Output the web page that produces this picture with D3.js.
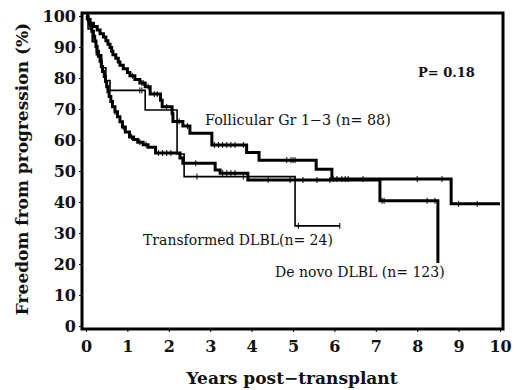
<!DOCTYPE html>
<html>
<head>
<meta charset="utf-8">
<script src="https://cdn.jsdelivr.net/npm/d3@7"></script>
<style>
  body { margin: 0; background: #fff; }
  svg text { font-family: "DejaVu Serif", serif; fill: #111; }
</style>
</head>
<body>
<div id="chart"></div>
<script>
// step times (years) and survival after each drop (%)
const follicularT = [0.05, 0.10, 0.18, 0.27, 0.34, 0.42, 0.48, 0.53, 0.58, 0.62, 0.65, 0.72, 0.78, 0.82, 0.90, 1.00, 1.06, 1.18, 1.30, 1.43, 1.55, 1.80, 1.84, 2.08, 2.10, 2.34, 2.51, 3.04, 3.88, 4.18, 5.56, 5.94, 8.82];
const follicularV = [98.9, 97.7, 96.6, 95.5, 94.3, 93.2, 92.0, 90.9, 89.8, 88.6, 87.5, 86.4, 85.2, 84.1, 83.0, 81.8, 80.7, 79.5, 78.4, 77.2, 74.8, 72.8, 70.7, 68.5, 66.0, 64.5, 62.2, 58.4, 56.0, 53.5, 50.6, 47.4, 39.4];
const follicularEnd = 10;
const follicularCens = [1.12, 1.35, 1.38, 1.50, 1.65, 1.72, 1.95, 2.25, 2.45, 3.10, 3.20, 3.30, 3.40, 3.50, 3.60, 3.80, 4.85, 4.95, 5.00, 5.05, 5.97, 6.06, 6.18, 6.26, 6.33, 6.69, 8.00, 8.60, 9.00, 9.45];

const deNovoT = [0.03, 0.06, 0.08, 0.11, 0.14, 0.18, 0.21, 0.24, 0.27, 0.30, 0.34, 0.37, 0.40, 0.44, 0.47, 0.50, 0.53, 0.56, 0.60, 0.64, 0.70, 0.76, 0.82, 0.88, 0.95, 1.05, 1.15, 1.25, 1.38, 1.50, 1.68, 2.27, 2.34, 3.12, 3.24, 3.91, 7.10, 8.50];
const deNovoV = [99.2, 98.4, 97.6, 96.7, 95.1, 93.5, 91.9, 90.2, 88.6, 87.0, 85.4, 83.7, 82.1, 80.5, 78.9, 77.2, 75.6, 74.0, 72.4, 70.7, 69.1, 67.5, 65.9, 64.2, 62.6, 61.0, 60.2, 59.3, 58.5, 57.7, 55.8, 54.2, 52.5, 50.3, 49.3, 47.1, 40.4, 20.3];
const deNovoEnd = 8.5;
const deNovoCens = [0.25, 0.45, 0.70, 0.90, 1.10, 1.30, 1.45, 1.75, 1.85, 1.95, 2.05, 2.65, 3.30, 3.40, 3.50, 3.60, 4.40, 4.93, 5.24, 5.58, 5.89, 7.15, 7.20, 8.24, 8.43];

const transformedT = [0.05, 0.15, 0.25, 0.38, 0.48, 0.58, 1.43, 2.20, 2.37, 5.05];
const transformedV = [95.8, 91.7, 87.5, 83.3, 79.2, 76.0, 69.7, 55.5, 48.2, 32.3];
const transformedEnd = 6.13;
const transformedCens = [1.30, 1.35, 2.68, 3.80, 5.13, 6.13];

const yTicks = [0, 10, 20, 30, 40, 50, 60, 70, 80, 90, 100];
const xTicks = [0, 1, 2, 3, 4, 5, 6, 7, 8, 9, 10];

const W = 520, H = 390;
const svg = d3.select("#chart").append("svg")
    .attr("width", W)
    .attr("height", H);

const x = d3.scaleLinear().domain([0, 10]).range([86, 500]);
const y = d3.scaleLinear().domain([0, 100]).range([326, 16]);

// build step path points from drop times
function steps(times, vals, end){
    const pts = [[0, 100]];
    let prev = 100;
    times.forEach((t, i) => {
        pts.push([t, prev]);
        pts.push([t, vals[i]]);
        prev = vals[i];
    });
    pts.push([end, prev]);
    return pts;
}

function valueAt(times, vals, t){
    let v = 100;
    times.forEach((tt, i) => { if(tt <= t) v = vals[i]; });
    return v;
}

const line = d3.line().x(d => x(d[0])).y(d => y(d[1]));

const curves = [
    {t: follicularT, v: follicularV, end: follicularEnd, cens: follicularCens, w: 3},
    {t: deNovoT, v: deNovoV, end: deNovoEnd, cens: deNovoCens, w: 3},
    {t: transformedT, v: transformedV, end: transformedEnd, cens: transformedCens, w: 1.6}
];

const g = svg.append("g");
curves.forEach(c => {
    g.append("path")
        .attr("d", line(steps(c.t, c.v, c.end)))
        .attr("fill", "none")
        .attr("stroke", "#000")
        .attr("stroke-width", c.w)
        .attr("stroke-linejoin", "miter");

    g.selectAll(null)
        .data(c.cens)
        .enter()
        .append("line")
            .attr("x1", d => x(d))
            .attr("x2", d => x(d))
            .attr("y1", d => y(valueAt(c.t, c.v, d)) - 3)
            .attr("y2", d => y(valueAt(c.t, c.v, d)) + 3)
            .attr("stroke", "#000")
            .attr("stroke-width", 1);
});

// frame
svg.append("rect")
    .attr("x", 82).attr("y", 13)
    .attr("width", 421).attr("height", 316)
    .attr("fill", "none")
    .attr("stroke", "#000")
    .attr("stroke-width", 3);

// axes
const yAxis = svg.append("g")
    .attr("transform", "translate(82,0)")
    .call(d3.axisLeft(y).tickValues(yTicks).tickSize(3).tickPadding(3));
yAxis.select(".domain").remove();
yAxis.selectAll("text")
    .style("font-family", "DejaVu Serif")
    .style("font-size", "16px")
    .style("font-weight", "bold")
    .attr("fill", "#111");

const xAxis = svg.append("g")
    .attr("transform", "translate(0,329)")
    .call(d3.axisBottom(x).tickValues(xTicks).tickSize(3).tickPadding(9));
xAxis.select(".domain").remove();
xAxis.selectAll("text")
    .style("font-family", "DejaVu Serif")
    .style("font-size", "16px")
    .style("font-weight", "bold")
    .attr("fill", "#111");

// titles
svg.append("text")
    .attr("transform", "translate(28,169) rotate(-90)")
    .attr("text-anchor", "middle")
    .style("font-size", "17px")
    .style("font-weight", "bold")
    .text("Freedom from progression (%)");

svg.append("text")
    .attr("x", 292).attr("y", 384)
    .attr("text-anchor", "middle")
    .style("font-size", "17px")
    .style("font-weight", "bold")
    .text("Years post\u2212transplant");

// annotations
svg.append("text")
    .attr("x", 418).attr("y", 77)
    .style("font-size", "13px")
    .style("font-weight", "bold")
    .text("P= 0.18");

svg.append("text")
    .attr("x", 205).attr("y", 125)
    .style("font-size", "14.3px")
    .text("Follicular Gr 1\u22123 (n= 88)");

svg.append("text")
    .attr("x", 143).attr("y", 245)
    .style("font-size", "14px")
    .text("Transformed DLBL(n= 24)");

svg.append("text")
    .attr("x", 275).attr("y", 277)
    .style("font-size", "14px")
    .text("De novo DLBL (n= 123)");
</script>
</body>
</html>
